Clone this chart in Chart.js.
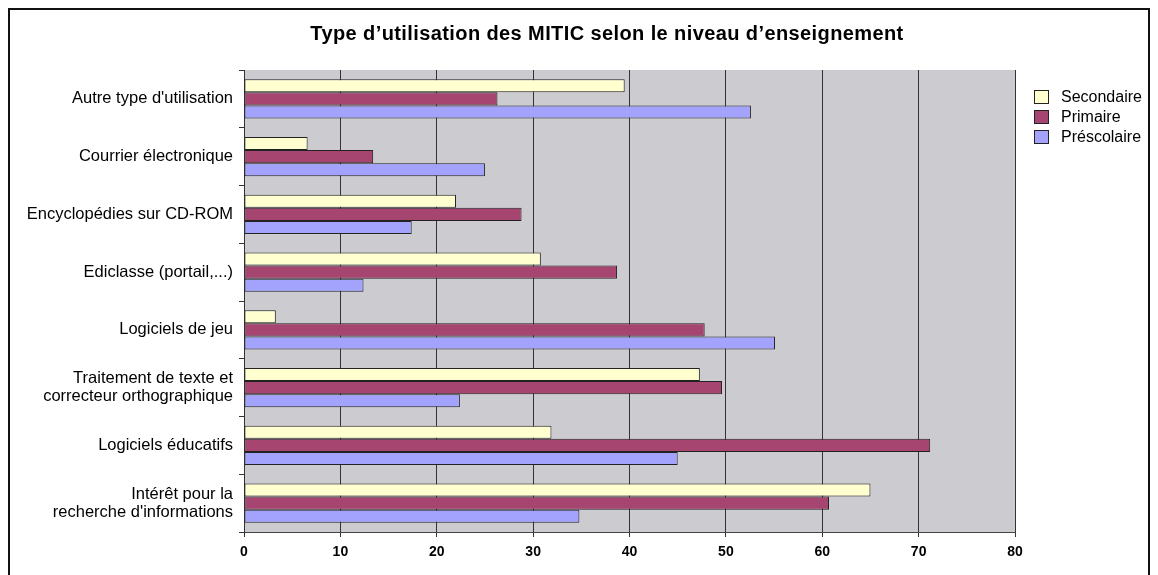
<!DOCTYPE html>
<html>
<head>
<meta charset="utf-8">
<script src="https://cdn.jsdelivr.net/npm/chart.js@4"></script>
<style>
  body { margin: 0; background: #fff; }
  #wrap { position: relative; width: 1158px; height: 575px; overflow: hidden; }
  #title { position: absolute; left: 607px; top: 22px; transform: translateX(-50%); white-space: nowrap;
           font: bold 20px "Liberation Sans", Arial, sans-serif; letter-spacing: 0.4px; color: #000; }
  #legend { position: absolute; left: 1034px; top: 87px; font: 16px "Liberation Sans", Arial, sans-serif; color: #000; }
  #legend .item { height: 20px; display: flex; align-items: center; }
  #legend .box { width: 13px; height: 12px; border: 1px solid #222; margin-right: 12px; }
</style>
</head>
<body>
<div id="wrap">
  <canvas id="chart" width="1158" height="575"></canvas>
  <div id="title">Type d’utilisation des MITIC selon le niveau d’enseignement</div>
  <div id="legend"></div>
</div>
<script>
'use strict';

// Categories, top to bottom
const categories = [
  "Autre type d'utilisation",
  "Courrier électronique",
  "Encyclopédies sur CD-ROM",
  "Ediclasse (portail,...)",
  "Logiciels de jeu",
  ["Traitement de texte et", "correcteur orthographique"],
  "Logiciels éducatifs",
  ["Intérêt pour la", "recherche d'informations"]
];

const seriesNames = ["Secondaire", "Primaire", "Préscolaire"];
const secondaire = [39.5, 6.6, 22.0, 30.8, 3.3, 47.3, 31.9, 65.0];
const primaire = [26.3, 13.4, 28.8, 38.7, 47.8, 49.6, 71.2, 60.7];
const prescolaire = [52.6, 25.0, 17.4, 12.4, 55.1, 22.4, 45.0, 34.8];
const xTicks = [0, 10, 20, 30, 40, 50, 60, 70, 80];

const colors = ["#ffffd0", "#a6456f", "#a3a3fd"];
const FONT = "'Liberation Sans', Arial, sans-serif";

// gray plot background + outer frame
const decor = {
  id: 'decor',
  beforeDraw(chart) {
    const { ctx, chartArea: a } = chart;
    ctx.save();
    ctx.fillStyle = '#cbcbd0';
    ctx.fillRect(a.left, a.top, a.right - a.left, a.bottom - a.top);
    ctx.strokeStyle = '#111';
    ctx.lineWidth = 2;
    ctx.strokeRect(9, 9, 1140, 620);
    ctx.restore();
  }
};

const ctx = document.getElementById('chart').getContext('2d');
const chart = new Chart(ctx, {
  type: 'bar',
  data: {
    labels: categories,
    datasets: [secondaire, primaire, prescolaire].map((d, i) => ({
      label: seriesNames[i],
      data: d,
      backgroundColor: colors[i],
      borderColor: '#222',
      borderWidth: 1,
      borderSkipped: false,
      categoryPercentage: 0.68,
      barPercentage: 1.0
    }))
  },
  options: {
    indexAxis: 'y',
    responsive: false,
    animation: false,
    layout: { padding: { left: 0, right: 143, top: 70, bottom: 0 } },
    plugins: {
      legend: { display: false },
      tooltip: { enabled: false },
      title: { display: false }
    },
    scales: {
      x: {
        min: 0,
        max: 80,
        afterBuildTicks: (s) => { s.ticks = xTicks.map(v => ({ value: v })); },
        afterFit: (s) => { s.height = 43; },
        ticks: { color: '#000', font: { family: FONT, size: 14, weight: 'bold' }, padding: 7 },
        grid: { color: '#333', lineWidth: 1, tickLength: 5 },
        border: { color: '#444', width: 1 }
      },
      y: {
        afterFit: (s) => { s.width = 244; },
        ticks: { color: '#000', font: { family: FONT, size: 16.5, lineHeight: 1.1 }, padding: 6 },
        grid: { drawOnChartArea: false, offset: true, color: '#333', tickLength: 5 },
        border: { color: '#333', width: 1 }
      }
    }
  },
  plugins: [decor]
});

// legend as html
const legend = document.getElementById('legend');
seriesNames.forEach((name, i) => {
  const item = document.createElement('div');
  item.className = 'item';
  item.innerHTML = '<span class="box" style="background:' + colors[i] + '"></span>' + name;
  legend.appendChild(item);
});
</script>
</body>
</html>
